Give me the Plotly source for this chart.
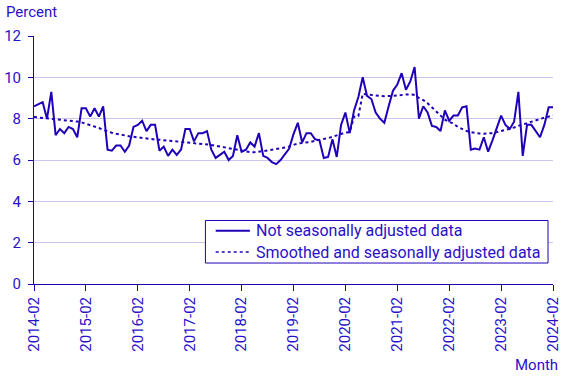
import plotly.graph_objects as go

years = list(range(2014, 2025))
months = [f"{y}-{m:02d}" for y in range(2014, 2025) for m in range(1, 13)]
months = months[months.index("2014-02"):months.index("2024-02") + 1]
tick_labels = [f"{y}-02" for y in years]

series_names = ["Not seasonally adjusted data", "Smoothed and seasonally adjusted data"]

not_adjusted = [
    8.6, 8.7, 8.8, 8.0, 9.3, 7.2, 7.5, 7.3, 7.6, 7.5, 7.1, 8.5,
    8.5, 8.1, 8.5, 8.1, 8.6, 6.5, 6.45, 6.7, 6.7, 6.4, 6.7, 7.6,
    7.7, 7.9, 7.4, 7.7, 7.7, 6.45, 6.65, 6.2, 6.5, 6.25, 6.5, 7.5,
    7.5, 6.9, 7.3, 7.3, 7.4, 6.5, 6.1, 6.25, 6.4, 6.0, 6.2, 7.2,
    6.4, 6.5, 6.85, 6.65, 7.3, 6.2, 6.1, 5.9, 5.8, 6.0, 6.25, 6.55,
    7.25, 7.8, 6.85, 7.3, 7.3, 7.0, 6.95, 6.1, 6.15, 7.0, 6.15, 7.7,
    8.3, 7.3, 8.4, 9.05, 10.0, 9.1, 8.95, 8.3, 8.0, 7.8, 8.6, 9.35,
    9.65, 10.2, 9.4, 9.8, 10.5, 8.0, 8.6, 8.3, 7.65, 7.6, 7.4, 8.4,
    7.9, 8.15, 8.15, 8.55, 8.6, 6.5, 6.55, 6.5, 7.1, 6.4, 6.95, 7.6,
    8.15, 7.7, 7.5, 7.85, 9.3, 6.2, 7.7, 7.7, 7.4, 7.1, 7.7, 8.55,
    8.55,
]

smoothed = [
    8.08, 8.06, 8.04, 8.02, 8.0, 7.98, 7.95, 7.92, 7.9, 7.88, 7.86, 7.82,
    7.76, 7.7, 7.63, 7.55, 7.46, 7.38, 7.32, 7.27, 7.22, 7.18, 7.15, 7.12,
    7.09, 7.06, 7.03, 7.0, 6.99, 6.98, 6.96, 6.95, 6.93, 6.91, 6.89, 6.87,
    6.86, 6.84, 6.81, 6.78, 6.76, 6.73, 6.69, 6.65, 6.61, 6.57, 6.53, 6.49,
    6.45, 6.41, 6.38, 6.38, 6.4, 6.43, 6.46, 6.5, 6.53, 6.56, 6.6, 6.66,
    6.73, 6.8, 6.82, 6.84, 6.88, 6.93, 6.97, 7.0, 7.06, 7.12, 7.18, 7.25,
    7.33, 7.35, 8.1, 8.12, 9.2, 9.17, 9.14, 9.12, 9.1, 9.09, 9.08, 9.1,
    9.12, 9.15, 9.17, 9.17, 9.15, 9.0, 8.9, 8.75, 8.55, 8.35, 8.15, 7.95,
    7.85, 7.75, 7.6, 7.5, 7.4, 7.35, 7.3, 7.28, 7.27, 7.27, 7.3, 7.35,
    7.4, 7.45, 7.5, 7.57, 7.65, 7.72, 7.78, 7.85, 7.92, 7.98, 8.05, 8.1,
    8.15,
]

y_ticks = [0, 2, 4, 6, 8, 10, 12]

LINE = "#1f00b8"
TEXT = "#2a10c8"
GRID = "#c9c6ef"
FONT = "Roboto"

fig = go.Figure()
fig.add_trace(go.Scatter(
    x=months, y=not_adjusted, mode="lines",
    name=series_names[0],
    line=dict(color=LINE, width=2),
))
fig.add_trace(go.Scatter(
    x=months, y=smoothed, mode="lines",
    name=series_names[1],
    line=dict(color=LINE, width=2, dash="dot"),
))

# Compact legend box (drawn in paper coordinates)
legend_box = dict(x0=0.3303, x1=0.9904, y0=0.0846, y1=0.2561)
legend_rows = [0.2147, 0.1289]
legend_dash = ["solid", "dot"]
sample_x = (0.3501, 0.4160)
text_x = 0.4239

shapes = [dict(type="rect", xref="paper", yref="paper", layer="above",
               fillcolor="white", line=dict(color=LINE, width=1), **legend_box)]
annotations = []
for name, yr, dash in zip(series_names, legend_rows, legend_dash):
    shapes.append(dict(type="line", xref="paper", yref="paper", layer="above",
                       x0=sample_x[0], x1=sample_x[1], y0=yr, y1=yr,
                       line=dict(color=LINE, width=2 if dash == "solid" else 1.5, dash=dash)))
    annotations.append(dict(text=name, xref="paper", yref="paper",
                            x=text_x, y=yr, xanchor="left", yanchor="middle",
                            showarrow=False, font=dict(size=16, color=TEXT)))

annotations += [
    dict(text="Percent", xref="paper", yref="paper",
         x=-0.058, y=1.097, xanchor="left", yanchor="middle",
         showarrow=False, font=dict(size=15, color=TEXT)),
    dict(text="Month", xref="paper", yref="paper",
         x=1.013, y=-0.325, xanchor="right", yanchor="middle",
         showarrow=False, font=dict(size=15, color=TEXT)),
]

fig.update_layout(
    width=567, height=378,
    margin=dict(l=34, r=14, t=36, b=94),
    paper_bgcolor="white", plot_bgcolor="white",
    font=dict(family=FONT, size=15, color=TEXT),
    showlegend=False,
    xaxis=dict(
        type="category",
        categoryorder="array", categoryarray=months,
        range=[0, len(months) - 1],
        tickmode="array", tickvals=tick_labels, ticktext=tick_labels,
        tickangle=-90,
        ticks="outside", ticklen=6, tickcolor=LINE, tickwidth=1,
        showline=True, linecolor=LINE, linewidth=1,
        showgrid=False, zeroline=False, automargin=False,
        tickfont=dict(size=15, color=TEXT),
    ),
    yaxis=dict(
        range=[0, 12],
        tickmode="array", tickvals=y_ticks,
        ticks="outside", ticklen=5, tickcolor=LINE, tickwidth=1,
        showline=True, linecolor=LINE, linewidth=1,
        showgrid=True, gridcolor=GRID, gridwidth=1,
        zeroline=False, automargin=False,
        tickfont=dict(size=15, color=TEXT),
        ticklabelstandoff=4,
    ),
    shapes=shapes,
    annotations=annotations,
)

fig.write_html(
    "out.html",
    config={"displayModeBar": False},
    post_script="document.body.style.margin='0';document.body.style.overflow='hidden';",
)
